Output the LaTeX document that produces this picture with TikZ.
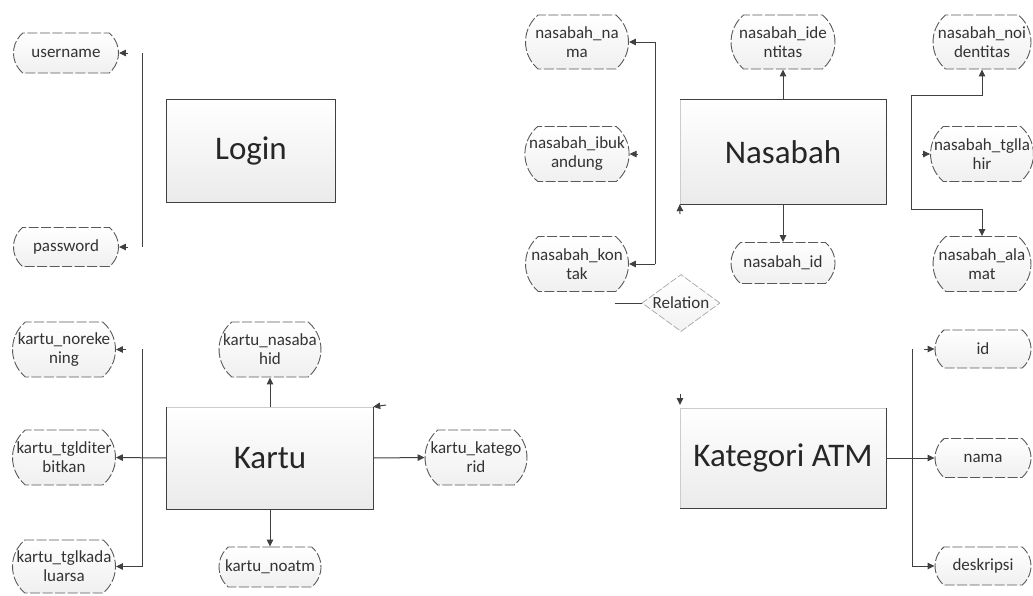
\documentclass[tikz,border=0pt]{standalone}
\usepackage{fontspec}
\setmainfont{Carlito}
\usetikzlibrary{arrows.meta,shapes.geometric,shapes.misc}
\begin{document}
\begin{tikzpicture}[x=1pt,y=-1pt,
  entity/.style={top color=white, bottom color=black!8, inner sep=0pt,
    font=\fontsize{33}{36}\selectfont, text=black!85},
  bdark/.style={draw=black!75, line width=1pt},
  blight/.style={draw=black!20, line width=0.6pt},
  attr/.style={rounded rectangle, rounded rectangle arc length=100,
    draw=black!65, dash pattern=on 10pt off 2.5pt,
    line width=0.9pt, top color=white, bottom color=black!6, align=center,
    inner sep=0pt, font=\fontsize{17}{19}\selectfont, text=black!80},
  relshape/.style={diamond, draw=black!35, dash pattern=on 7pt off 2pt,
    line width=0.7pt, top color=white, bottom color=black!5, inner sep=0pt,
    minimum width=78pt, minimum height=57pt},
  conn/.style={draw=black!75, line width=1pt},
  arr/.style={conn, -{Triangle[length=7pt,width=6.5pt]}}]
\useasboundingbox (0,0) rectangle (1033,595);

% ---------- Login ----------
\node[entity, minimum width=168pt, minimum height=103pt] (login) at (251,151) {Login};
\draw[bdark] (login.north west) rectangle (login.south east);
\node[attr, minimum width=105pt, minimum height=40pt] (user) at (66,53) {username};
\node[attr, minimum width=105pt, minimum height=39pt] (pass) at (66,247) {password};
\coordinate (lbT) at (142,53);
\coordinate (lbB) at (142,247);
\draw[conn] (lbT) -- (lbB);
\coordinate (lu) at (128,53);
\coordinate (lp) at (128,247);
\draw[arr] (lu) -- (user.east);
\draw[arr] (lp) -- (pass.east);

% ---------- Nasabah ----------
\node[entity, minimum width=206pt, minimum height=104pt] (nas) at (783,152) {Nasabah};
\draw[bdark] (nas.south west) -- (nas.south east) -- (nas.north east) -- (nas.north west);
\draw[blight] (nas.north west) -- (nas.south west);
\node[attr, minimum width=103pt, minimum height=54pt] (nnama) at (577,42) {nasabah\_na\\ma};
\node[attr, minimum width=104pt, minimum height=54pt] (nidt) at (783,42) {nasabah\_ide\\ntitas};
\node[attr, minimum width=98pt, minimum height=54pt] (nnoid) at (982,42) {nasabah\_noi\\dentitas};
\node[attr, minimum width=103pt, minimum height=55pt] (nibu) at (577,154) {nasabah\_ibuk\\andung};
\node[attr, minimum width=98pt, minimum height=55pt] (ntgl) at (982,154) {nasabah\_tglla\\hir};
\node[attr, minimum width=103pt, minimum height=55pt] (nkon) at (577,264) {nasabah\_kon\\tak};
\node[attr, minimum width=104pt, minimum height=41pt] (nid) at (783,263) {nasabah\_id};
\node[attr, minimum width=98pt, minimum height=55pt] (nala) at (982,264) {nasabah\_ala\\mat};
\draw[arr] (nas.north) -- (nidt.south);
\draw[arr] (nas.south) -- (nid.north);
\coordinate (nbT) at (655,42);
\coordinate (nbB) at (655,264);
\draw[arr] (nbB) -- (nbT) -- (nnama.east);
\draw[arr] (nbB) -- (nkon.east);
\coordinate (nib) at (638,154);
\draw[arr] (nib) -- (nibu.east);
\coordinate (rbT) at (911,95);
\coordinate (rbB) at (911,209);
\draw[arr] (rbB) -- (rbT) -| (nnoid.south);
\draw[arr] (rbB) -| (nala.north);
\coordinate (ntg) at (922,154);
\draw[arr] (ntg) -- (ntgl.west);

% ---------- Relation ----------
\node[relshape, label={[font=\fontsize{17}{19}\selectfont, text=black!80]center:Relation}] (rel) at (681,303) {};
\coordinate (rs) at (615,303);
\draw[conn] (rs) -- (rel.west);
\coordinate (rn) at (680,214);
\draw[arr] (rn) -- (nas.south west);
\coordinate (rk) at (680,394);
\coordinate (rkt) at (680,405);
\draw[arr] (rk) -- (rkt);

% ---------- Kategori ATM ----------
\node[entity, minimum width=206pt, minimum height=100pt] (kat) at (783,458) {Kategori ATM};
\draw[bdark] (kat.north east) -- (kat.south east) -- (kat.south west);
\draw[blight] (kat.south west) -- (kat.north west) -- (kat.north east);
\node[attr, minimum width=96pt, minimum height=38pt] (kid) at (983,349) {id};
\node[attr, minimum width=96pt, minimum height=39pt] (knama) at (983,458) {nama};
\node[attr, minimum width=96pt, minimum height=38pt] (kdesk) at (983,566) {deskripsi};
\coordinate (kbT) at (912,349);
\coordinate (kbB) at (912,566);
\draw[arr] (kat.east) -- (knama.west);
\draw[arr] (kbT) -- (kbB) -- (kdesk.west);
\coordinate (kia) at (924,349);
\draw[arr] (kia) -- (kid.west);

% ---------- Kartu ----------
\node[entity, minimum width=206pt, minimum height=102pt] (kartu) at (270,458) {Kartu};
\draw[bdark] (kartu.north west) -- (kartu.south west) -- (kartu.south east) -- (kartu.north east);
\draw[blight] (kartu.north west) -- (kartu.north east);
\node[attr, minimum width=103pt, minimum height=55pt] (knr) at (64,349.5) {kartu\_noreke\\ning};
\node[attr, minimum width=103pt, minimum height=55pt] (ktd) at (64,457.5) {kartu\_tglditer\\bitkan};
\node[attr, minimum width=103pt, minimum height=53pt] (ktk) at (64,566.5) {kartu\_tglkada\\luarsa};
\node[attr, minimum width=102pt, minimum height=55pt] (kns) at (270,349.5) {kartu\_nasaba\\hid};
\node[attr, minimum width=102pt, minimum height=40pt] (kna) at (270,567) {kartu\_noatm};
\node[attr, minimum width=102pt, minimum height=55pt] (kkt) at (476,457.5) {kartu\_katego\\rid};
\draw[arr] (kartu.west) -- (ktd.east);
\coordinate (kbt) at (142,349);
\coordinate (kbb) at (142,566.5);
\draw[arr] (kbt) -- (kbb) -- (ktk.east);
\coordinate (knra) at (126,349.5);
\draw[arr] (knra) -- (knr.east);
\draw[arr] (kartu.north) -- (kns.south);
\draw[arr] (kartu.south) -- (kna.north);
\draw[arr] (kartu.east) -- (kkt.west);
\coordinate (rka) at (386,405);
\draw[arr] (rka) -- (kartu.north east);
\end{tikzpicture}
\end{document}
